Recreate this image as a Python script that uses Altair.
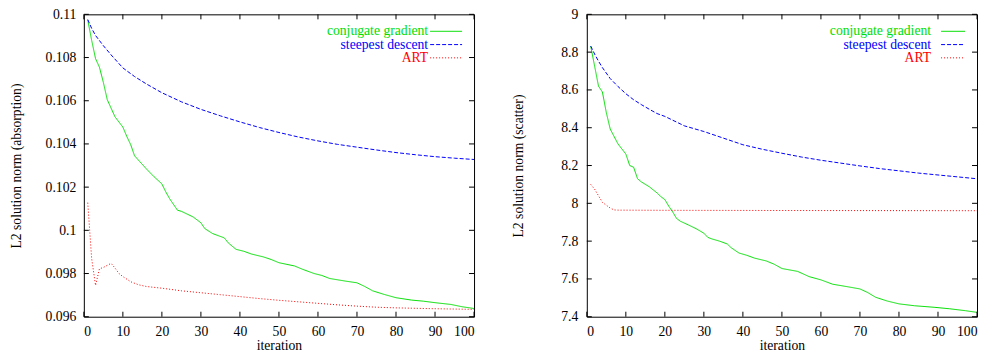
import altair as alt
import pandas as pd

METHODS = ["conjugate gradient", "steepest descent", "ART"]
COLORS = ["#00dd00", "#0000ff", "#ff0000"]
DASHES = [[1, 0], [4, 2], [1, 2]]

# ---- absorption panel (left) ----
cg_abs_iter = [1, 2, 3, 4, 5, 6, 8, 10, 11, 12, 13, 15, 16, 18, 20, 21, 22, 24, 25, 28, 30, 31, 33, 36, 37, 39,
               41, 43, 46, 48, 50, 54, 56, 59, 61, 63, 67, 70, 72, 74, 77, 80, 84, 87, 90, 94, 97, 100]
cg_abs_val = [0.10974, 0.1088, 0.10795, 0.10755, 0.10685, 0.10605, 0.10525, 0.10478, 0.10435, 0.10397, 0.10345,
              0.10305, 0.10285, 0.10248, 0.10215, 0.10178, 0.10146, 0.10093, 0.10088, 0.10062, 0.10035, 0.10008,
              0.09985, 0.09965, 0.09942, 0.09912, 0.09903, 0.0989, 0.09877, 0.09865, 0.0985, 0.09835, 0.0982,
              0.098, 0.09791, 0.09777, 0.09765, 0.09757, 0.0974, 0.0972, 0.09703, 0.09688, 0.09677, 0.09672,
              0.09665, 0.09657, 0.09646, 0.09638]
sd_abs_iter = [1, 2, 3, 5, 7, 10, 13, 16, 20, 25, 30, 35, 40, 45, 50, 55, 60, 65, 70, 75, 80, 85, 90, 95, 100]
sd_abs_val = [0.10976, 0.10935, 0.10902, 0.10855, 0.10812, 0.10752, 0.10712, 0.10678, 0.10637, 0.10595, 0.1056,
              0.1053, 0.10502, 0.10476, 0.10453, 0.10432, 0.10414, 0.10398, 0.10385, 0.10372, 0.1036, 0.1035,
              0.10341, 0.10334, 0.10328]
art_abs_iter = [1, 2, 3, 4, 5, 6, 7, 8, 9, 10, 12, 14, 16, 20, 25, 30, 35, 40, 45, 50, 55, 60, 65, 70, 75, 80,
                90, 100]
art_abs_val = [0.10128, 0.0987, 0.09745, 0.09822, 0.09828, 0.09838, 0.09847, 0.09825, 0.098, 0.09786, 0.09762,
               0.09748, 0.0974, 0.09732, 0.0972, 0.09711, 0.09702, 0.09693, 0.09684, 0.09676, 0.09669, 0.09662,
               0.09655, 0.09649, 0.09644, 0.09641, 0.09637, 0.09634]

# ---- scatter panel (right) ----
cg_sca_iter = [1, 2, 3, 4, 5, 6, 8, 10, 11, 12, 13, 14, 16, 18, 19, 20, 21, 22, 23, 24, 26, 28, 30, 31, 32, 34,
               36, 37, 39, 41, 43, 46, 48, 50, 54, 57, 60, 63, 67, 70, 72, 74, 77, 80, 84, 89, 93, 97, 100]
cg_sca_val = [8.832, 8.726, 8.62, 8.589, 8.48, 8.393, 8.314, 8.261, 8.2, 8.191, 8.13, 8.113, 8.088, 8.055, 8.035,
              8.02, 7.985, 7.955, 7.92, 7.905, 7.886, 7.866, 7.842, 7.82, 7.812, 7.8, 7.785, 7.765, 7.737, 7.725,
              7.71, 7.695, 7.678, 7.655, 7.64, 7.612, 7.595, 7.572, 7.558, 7.547, 7.528, 7.503, 7.483, 7.468,
              7.458, 7.45, 7.442, 7.432, 7.423]
sd_sca_iter = [1, 2, 3, 4, 6, 8, 10, 12, 14, 16, 18, 20, 25, 30, 35, 40, 45, 50, 55, 60, 65, 70, 75, 80, 85, 90,
               95, 100]
sd_sca_val = [8.832, 8.79, 8.752, 8.718, 8.66, 8.618, 8.58, 8.548, 8.522, 8.498, 8.475, 8.46, 8.41, 8.38, 8.345,
              8.31, 8.286, 8.265, 8.245, 8.228, 8.213, 8.198, 8.184, 8.172, 8.16, 8.15, 8.14, 8.13]
art_sca_iter = [1, 2, 3, 4, 5, 6, 7, 8, 20, 50, 100]
art_sca_val = [8.1, 8.075, 8.04, 8.005, 7.99, 7.975, 7.965, 7.964, 7.963, 7.962, 7.961]

X_TICKS = list(range(0, 101, 10))
ABS_TICKS = [0.096, 0.098, 0.1, 0.102, 0.104, 0.106, 0.108, 0.11]
SCA_TICKS = [7.4, 7.6, 7.8, 8.0, 8.2, 8.4, 8.6, 8.8, 9.0]

W, H = 391, 303
FONT = "Liberation Serif"
FS = 13.7
TICK = 5
ROW = 13.3
LEG_TOP = 17


def make_df(series):
    rows = []
    for m, (its, vals) in zip(METHODS, series):
        for i, v in zip(its, vals):
            rows.append({"method": m, "iteration": i, "value": v})
    return pd.DataFrame(rows)


def panel(df, ydom, yticks, ytitle, label_pad, title_pad, rule_gap):
    color = alt.Color("method:N", scale=alt.Scale(domain=METHODS, range=COLORS), legend=None)
    dash = alt.StrokeDash("method:N", scale=alt.Scale(domain=METHODS, range=DASHES), legend=None)
    xs = alt.Scale(domain=[0, 100], nice=False)
    ys = alt.Scale(domain=ydom, nice=False, zero=False)
    xaxis = alt.Axis(values=X_TICKS, title="iteration", labelPadding=8, titlePadding=0,
                     labelOverlap=False, labelBound=False, tickCount=11)
    yaxis = alt.Axis(values=yticks, format="~g", title=ytitle, labelOverlap=False, tickCount=len(yticks),
                     labelBound=False, labelPadding=label_pad, titlePadding=title_pad)
    X = alt.X("iteration:Q", scale=xs, axis=xaxis)
    Y = alt.Y("value:Q", scale=ys, axis=yaxis)
    lines = alt.Chart(df).mark_line(strokeWidth=1).encode(x=X, y=Y, color=color, strokeDash=dash)
    xt = pd.DataFrame({"iteration": X_TICKS})
    yt = pd.DataFrame({"value": yticks})
    xb = alt.Chart(xt).mark_rule(color="black", strokeWidth=1).encode(
        x=X, y=alt.value(H), y2=alt.value(H - TICK))
    xtp = alt.Chart(xt).mark_rule(color="black", strokeWidth=1).encode(
        x=X, y=alt.value(0), y2=alt.value(TICK))
    yl = alt.Chart(yt).mark_rule(color="black", strokeWidth=1).encode(
        y=Y, x=alt.value(0), x2=alt.value(TICK))
    yr = alt.Chart(yt).mark_rule(color="black", strokeWidth=1).encode(
        y=Y, x=alt.value(W - TICK), x2=alt.value(W))
    core = alt.layer(lines, xb, xtp, yl, yr)

    leg = pd.DataFrame({"method": METHODS, "row": [0, 1, 2]})
    ly = alt.Y("row:Q", scale=alt.Scale(domain=[0, 2], range=[LEG_TOP, LEG_TOP + 2 * ROW]), axis=None)
    ltext = alt.Chart(leg).mark_text(align="right", baseline="middle", font=FONT, fontSize=FS).encode(
        x=alt.value(W - 46), y=ly, color=color, text="method:N")
    lrule = alt.Chart(leg).mark_rule(strokeWidth=1).encode(
        x=alt.value(W - rule_gap), x2=alt.value(W - 12), y=ly, color=color, strokeDash=dash)
    return alt.layer(core, ltext, lrule).resolve_scale(y="independent").properties(width=W, height=H)


left = panel(make_df([(cg_abs_iter, cg_abs_val), (sd_abs_iter, sd_abs_val), (art_abs_iter, art_abs_val)]),
             [0.096, 0.11], ABS_TICKS, "L2 solution norm (absorption)", 8, 22, 44)
right = panel(make_df([(cg_sca_iter, cg_sca_val), (sd_sca_iter, sd_sca_val), (art_sca_iter, art_sca_val)]),
              [7.4, 9.0], SCA_TICKS, "L2 solution norm (scatter)", 9, 35, 36)

chart = alt.hconcat(left, right, spacing=113, bounds="flush").properties(
    padding={"left": 0, "top": -2, "right": 0, "bottom": 0},
    background="white",
).configure_view(stroke="black", strokeWidth=1).configure_axis(
    grid=False, domain=False, ticks=False, tickSize=0, labelOverlap=False,
    labelFont=FONT, titleFont=FONT, labelFontSize=FS, titleFontSize=FS,
    labelColor="black", titleColor="black", titleFontWeight="normal",
)

chart.save("out.html", embed_options={"renderer": "svg", "actions": False})
